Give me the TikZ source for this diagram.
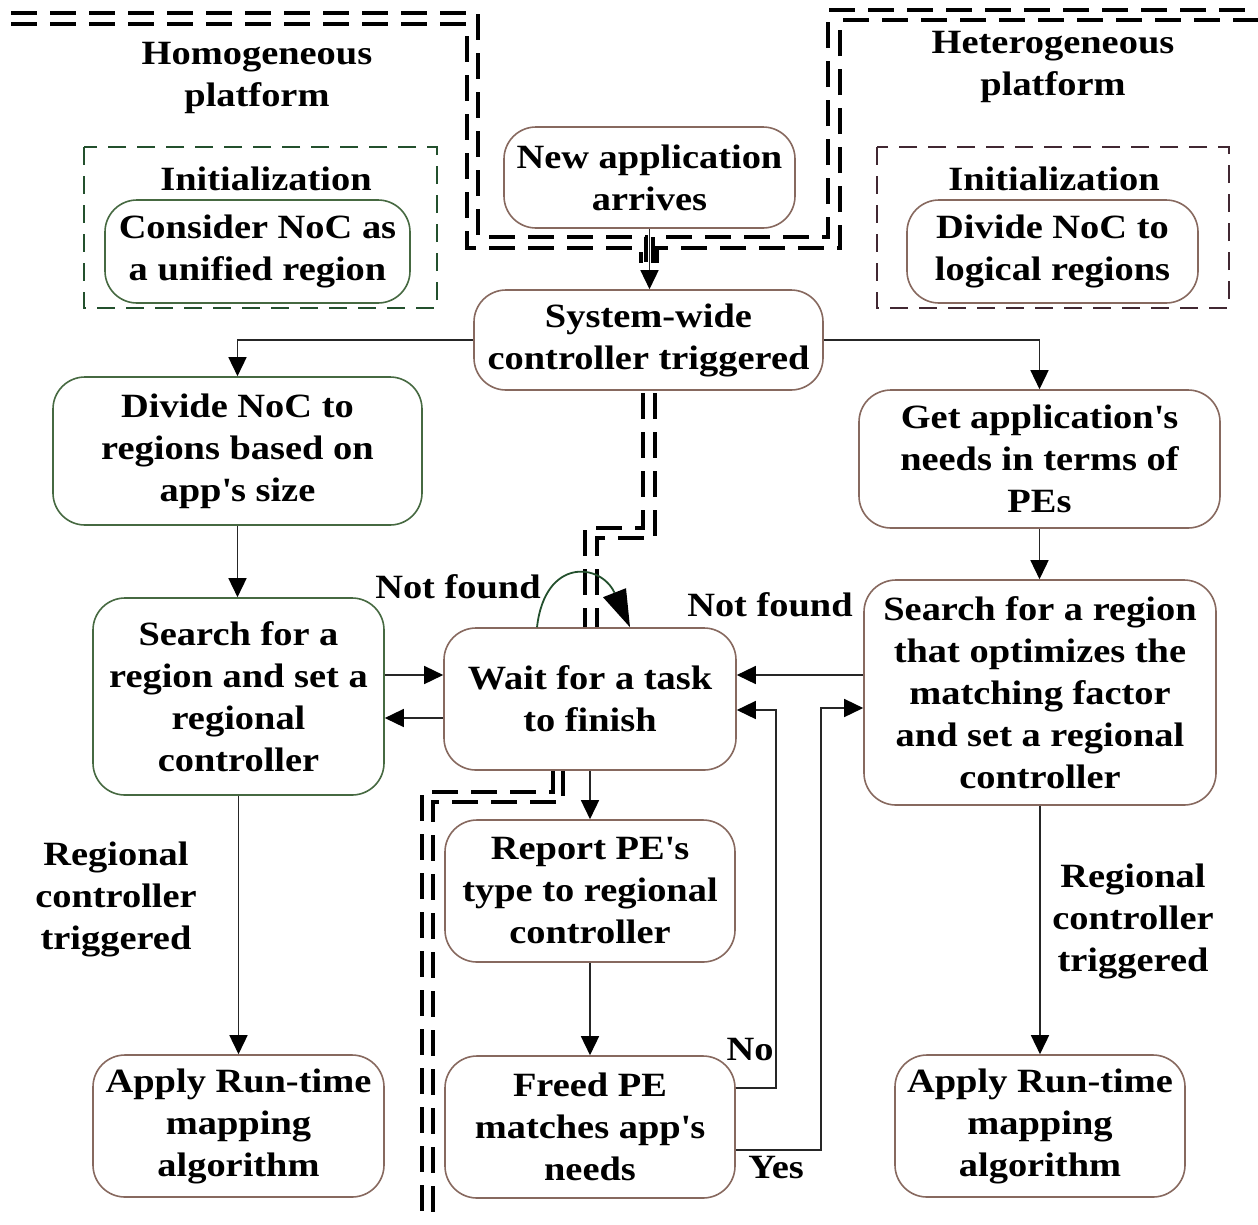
\documentclass[tikz,border=0pt]{standalone}
\usepackage{fontspec}
\setmainfont{Liberation Serif}[FakeStretch=1.13]
\usetikzlibrary{arrows.meta,calc}
\definecolor{bbrown}{RGB}{135,105,95}
\definecolor{bgreen}{RGB}{70,105,65}
\definecolor{dgreen}{RGB}{35,80,45}
\definecolor{dpurple}{RGB}{65,40,50}
\newcommand{\ap}{\textquotesingle}
\begin{document}
\begin{tikzpicture}[x=1pt,y=-1pt,
  box/.style={draw=bbrown, line width=1.6pt, rounded corners=32pt, fill=white,
    align=center, inner sep=0pt, font=\fontsize{34}{42}\selectfont\bfseries},
  gbox/.style={box, draw=bgreen},
  lbl/.style={align=center, inner sep=0pt, font=\fontsize{34}{42}\selectfont\bfseries},
  arr/.style={draw=black!85, line width=1.5pt, -{Triangle[length=19pt,width=18pt,color=black,fill=black]}},
  loopline/.style={draw=dgreen, line width=1.8pt},
  dline/.style={draw=black, line width=4pt, dash pattern=on 26pt off 13pt},
  region/.style={line width=2.5pt, dash pattern=on 18pt off 11pt}
]
\useasboundingbox (0,0) rectangle (1258,1224);
% double dashed separators
\draw[dline] (11,13) -- (478,13) -- (478,237) -- (646,237) -- (646,263);
\draw[dline] (11,24) -- (467,24) -- (467,248) -- (641,248) -- (641,263);
\draw[dline] (653,263) -- (653,237) -- (828,237) -- (828,10) -- (1258,10);
\draw[dline] (657,263) -- (657,248) -- (840,248) -- (840,20) -- (1258,20);
\draw[dline] (643,393) -- (643,528) -- (585,528) -- (585,628);
\draw[dline] (655,393) -- (655,538) -- (597,538) -- (597,628);
\draw[dline] (553,770) -- (553,792) -- (422,792) -- (422,1224);
\draw[dline] (563,770) -- (563,802) -- (433,802) -- (433,1224);
% initialization regions
\draw[region, draw=dgreen] (84,147) rectangle (437,308);
\draw[region, draw=dpurple] (877,147) rectangle (1229,308);
% titles
\node[lbl] (homo) at (257,78) {Homogeneous\\platform};
\node[lbl] (hete) at (1053,67) {Heterogeneous\\platform};
\node[lbl] (initl) at (266,179) {Initialization};
\node[lbl] (initr) at (1054,179) {Initialization};
% nodes
\node[gbox, minimum width=305pt, minimum height=103pt] (cons) at (257.5,251.5) {Consider NoC as\\a unified region};
\node[box, minimum width=291pt, minimum height=103pt] (divl) at (1052.5,251.5) {Divide NoC to\\logical regions};
\node[box, minimum width=291pt, minimum height=101pt] (new) at (649.5,177.5) {New application\\arrives};
\node[box, minimum width=349pt, minimum height=100pt] (sys) at (648.5,340) {System-wide\\controller triggered};
\node[gbox, minimum width=369pt, minimum height=148pt] (div) at (237.5,451) {Divide NoC to\\regions based on\\app\ap s size};
\node[box, minimum width=361pt, minimum height=138pt] (get) at (1039.5,459) {Get application\ap s\\needs in terms of\\PEs};
\node[gbox, minimum width=291pt, minimum height=197pt] (srl) at (238.5,696.5) {Search for a\\region and set a\\regional\\controller};
\node[box, minimum width=292pt, minimum height=142pt] (wait) at (590,699) {Wait for a task\\to finish};
\node[box, minimum width=352pt, minimum height=225pt] (srr) at (1040,692.5) {Search for a region\\that optimizes the\\matching factor\\and set a regional\\controller};
\node[box, minimum width=290pt, minimum height=142pt] (rep) at (590,891) {Report PE\ap s\\type to regional\\controller};
\node[box, minimum width=290pt, minimum height=142pt] (freed) at (590,1127) {Freed PE\\matches app\ap s\\needs};
\node[box, minimum width=291pt, minimum height=142pt] (appl) at (238.5,1126) {Apply Run-time\\mapping\\algorithm};
\node[box, minimum width=290pt, minimum height=142pt] (appr) at (1040,1126) {Apply Run-time\\mapping\\algorithm};
% labels
\node[lbl] (nf1) at (458,587) {Not found};
\node[lbl] (nf2) at (770,605) {Not found};
\node[lbl] (rcl) at (116,899) {Regional\\controller\\triggered};
\node[lbl] (rcr) at (1133,921) {Regional\\controller\\triggered};
\node[lbl] (no) at (750,1050) {No};
\node[lbl] (yes) at (776,1168) {Yes};
% connectors
\draw[arr] (new.south) -- (new.south |- sys.north);
\draw[arr] (sys.west) -| (div.north);
\draw[arr] (sys.east) -| (get.north);
\draw[arr] (div.south) -- (div.south |- srl.north);
\draw[arr] (get.south) -- (get.south |- srr.north);
\coordinate (a1) at ([yshift=21.5pt]srl.east);
\coordinate (a2) at ([yshift=-21.5pt]srl.east);
\coordinate (a3) at ([yshift=17.5pt]srr.west);
\draw[arr] (a1) -- (a1 -| wait.west);
\draw[arr] (a2 -| wait.west) -- (a2);
\draw[arr] (a3) -- (a3 -| wait.east);
\draw[arr] (wait.south) -- (rep.north);
\draw[arr] (rep.south) -- (freed.north);
\coordinate (f1) at ([yshift=39pt]freed.east);
\coordinate (w1) at ([yshift=-11pt]wait.east);
\draw[arr] (f1) -- ++(40,0) |- (w1);
\coordinate (f2) at ([yshift=-23pt]freed.east);
\coordinate (s2) at ([yshift=-15.5pt]srr.west);
\draw[arr] (f2) -- ++(85,0) |- (s2);
\draw[arr] (srl.south) -- (appl.north);
\draw[arr] (srr.south) -- (appr.north);
% self loop on "Wait for a task"
\coordinate (l1) at ([xshift=-53pt]wait.north);
\coordinate (l2) at ([xshift=40pt]wait.north);
\coordinate (lb) at ([xshift=-15.5pt,yshift=34.5pt]l2);
\draw[loopline] (l1) .. controls +(8,-70) and +(-14,-30) .. (lb);
\fill[black] (l2) -- ++(-27,-30) -- ++(23,-9) -- cycle;
\end{tikzpicture}
\end{document}
